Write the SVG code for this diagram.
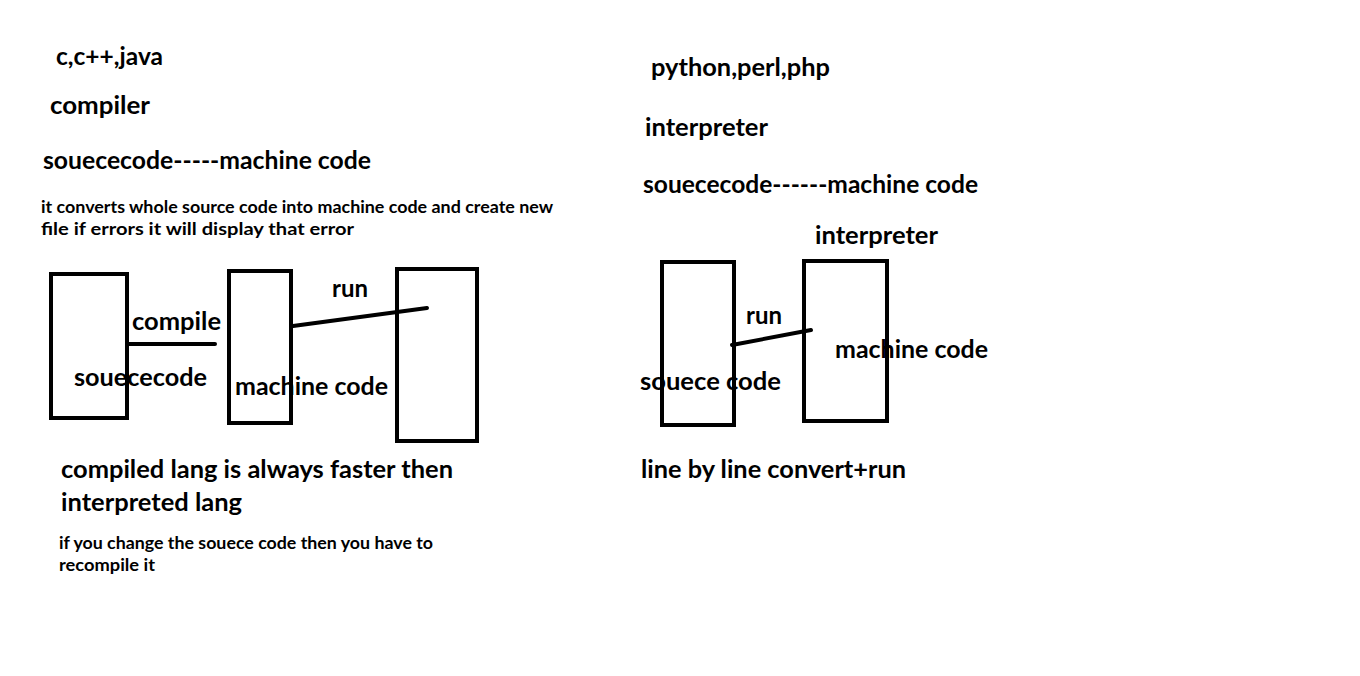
<svg xmlns="http://www.w3.org/2000/svg" width="1360" height="676" viewBox="0 0 1360 676">
<style>
text{font-family:Lato,"Open Sans","Liberation Sans",sans-serif;font-weight:bold;fill:#000}
.b{font-size:24px}
.s{font-size:16.5px}
.box{fill:none;stroke:#000;stroke-width:4}
.ln{stroke:#000;stroke-width:4;stroke-linecap:round}
</style>
<rect width="1360" height="676" fill="#fff"/>
<g id="left-notes">
<text class="b" x="56" y="65" textLength="107" lengthAdjust="spacingAndGlyphs">c,c++,java</text>
<text class="b" x="50" y="114" textLength="100" lengthAdjust="spacingAndGlyphs">compiler</text>
<text class="b" x="43" y="169" textLength="328" lengthAdjust="spacingAndGlyphs">souececode-----machine code</text>
<text class="s" x="41" y="213" textLength="512" lengthAdjust="spacingAndGlyphs">it converts whole source code into machine code and create new</text>
<text class="s" x="41" y="235" textLength="313" lengthAdjust="spacingAndGlyphs">file if errors it will display that error</text>
</g>
<g id="connectors">
<line class="ln" x1="128" y1="344" x2="215" y2="344"/>
<line class="ln" x1="293" y1="326" x2="427" y2="308"/>
<line class="ln" x1="732" y1="345" x2="811" y2="330"/>
</g>
<g id="node-sourcecode">
<rect class="box" x="51" y="274" width="76" height="144"/>
<text class="b" x="74" y="386" textLength="133" lengthAdjust="spacingAndGlyphs">souececode</text>
</g>
<g id="node-machinecode">
<rect class="box" x="229" y="271" width="62" height="152"/>
<text class="b" x="235" y="395" textLength="153" lengthAdjust="spacingAndGlyphs">machine code</text>
</g>
<g id="node-run-target">
<rect class="box" x="397" y="269" width="80" height="172"/>
</g>
<g id="left-labels">
<text class="b" x="132" y="330" textLength="89" lengthAdjust="spacingAndGlyphs">compile</text>
<text class="b" x="332" y="297" textLength="36" lengthAdjust="spacingAndGlyphs">run</text>
<text class="b" x="61" y="478" textLength="392" lengthAdjust="spacingAndGlyphs">compiled lang is always faster then</text>
<text class="b" x="61" y="511" textLength="181" lengthAdjust="spacingAndGlyphs">interpreted lang</text>
<text class="s" x="59" y="549" textLength="374" lengthAdjust="spacingAndGlyphs">if you change the souece code then you have to</text>
<text class="s" x="59" y="571" textLength="96" lengthAdjust="spacingAndGlyphs">recompile it</text>
</g>
<g id="right-notes">
<text class="b" x="651" y="76" textLength="179" lengthAdjust="spacingAndGlyphs">python,perl,php</text>
<text class="b" x="645" y="136" textLength="123" lengthAdjust="spacingAndGlyphs">interpreter</text>
<text class="b" x="643" y="193" textLength="335" lengthAdjust="spacingAndGlyphs">souececode------machine code</text>
<text class="b" x="815" y="244" textLength="123" lengthAdjust="spacingAndGlyphs">interpreter</text>
</g>
<g id="node-souece-code">
<rect class="box" x="662" y="262" width="72" height="163"/>
<text class="b" x="640" y="390" textLength="141" lengthAdjust="spacingAndGlyphs">souece code</text>
</g>
<g id="node-interpreter-machine-code">
<rect class="box" x="804" y="261" width="83" height="160"/>
<text class="b" x="835" y="358" textLength="153" lengthAdjust="spacingAndGlyphs">machine code</text>
</g>
<g id="right-labels">
<text class="b" x="746" y="324" textLength="36" lengthAdjust="spacingAndGlyphs">run</text>
<text class="b" x="641" y="478" textLength="265" lengthAdjust="spacingAndGlyphs">line by line convert+run</text>
</g>
</svg>
